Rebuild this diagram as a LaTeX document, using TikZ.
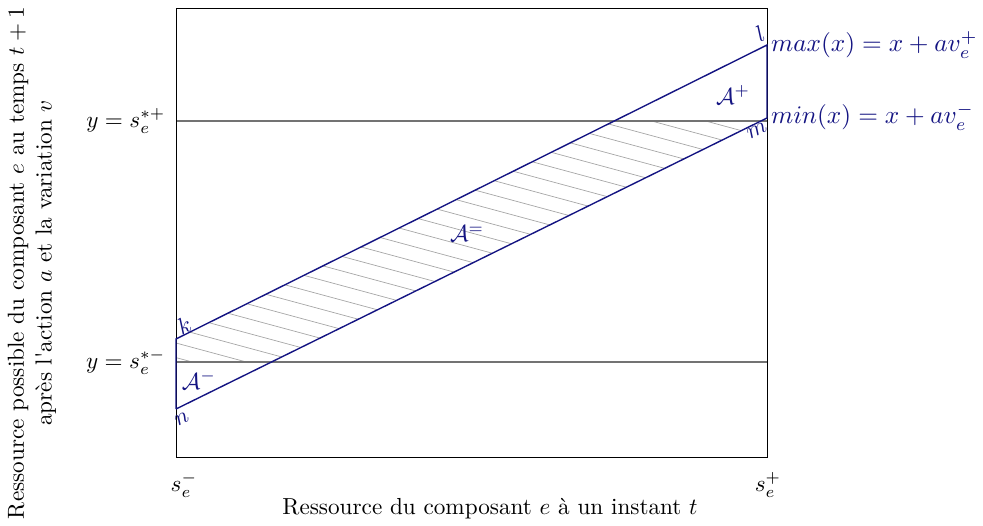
\documentclass[tikz,border=0pt]{standalone}
\usetikzlibrary{calc}
\definecolor{dblue}{RGB}{20,20,130}
\begin{document}
\begin{tikzpicture}[x=0.431pt,y=-0.431pt,
  frame/.style={draw=black,line width=0.4pt},
  level/.style={draw=black!55,line width=0.8pt},
  bline/.style={draw=dblue,line width=0.6pt},
  hatchline/.style={draw=gray!70,line width=0.3pt},
  blab/.style={text=dblue,inner sep=1pt},
  tlab/.style={text=black,inner sep=1pt}]
\useasboundingbox (0,0) rectangle (983,525);
% box corners
\coordinate (bl) at (176,457);
\coordinate (tr) at (767,8);
% horizontal levels
\coordinate (hpL) at (176,121); \coordinate (hpR) at (767,121);
\coordinate (hmL) at (176,362); \coordinate (hmR) at (767,362);
% parallelogram corners
\coordinate (k) at (176,339);
\coordinate (n) at (176,409);
\coordinate (l) at (767,45);
\coordinate (m) at (767,118);
% hatching
\begin{scope}
\clip (k) -- (176,362) -- (271.4,362) -- (760.9,121) -- (614,121) -- cycle;
\foreach \i in {-5,...,40}{
  \draw[hatchline] (150,{343-14.6*\i-0.27*26}) -- (800,{343-14.6*\i+0.27*624});
}
\end{scope}
\draw[level] (hpL) -- (hpR);
\draw[level] (hmL) -- (hmR);
\draw[frame] (bl) rectangle (tr);
\draw[bline] (n) -- (k) -- (l) -- (m) -- (n);
% corner letters
\node[blab,rotate=26.4] (lk) at (184,325) {$k$};
\node[blab,rotate=26.2] (ln) at (182,419) {$n$};
\node[blab,rotate=26.4] (ll) at (760,34) {$l$};
\node[blab,rotate=26.2] (lm) at (757,131) {$m$};
% areas
\node[blab] (Ap) at (733,95) {$\mathcal{A}^{+}$};
\node[blab] (Ae) at (467,234) {$\mathcal{A}^{=}$};
\node[blab] (Am) at (199,380) {$\mathcal{A}^{-}$};
% right labels
\node[blab,anchor=west,scale=1.09] (maxl) at (768,45) {$max(x) = x + av_e^{+}$};
\node[blab,anchor=west,scale=1.09] (minl) at (768,117) {$min(x) = x + av_e^{-}$};
% left labels
\node[tlab,anchor=east] (ysp) at (168,121) {$y = s_e^{*+}$};
\node[tlab,anchor=east] (ysm) at (168,362) {$y = s_e^{*-}$};
\node[tlab,rotate=90,align=center] (ylab) at (32,263) {Ressource possible du composant $e$ au temps $t+1$\\après l\textquotesingle action $a$ et la variation $v$};
% bottom labels
\node[tlab] (sm) at (184,485) {$s_e^{-}$};
\node[tlab] (spl) at (768,485) {$s_e^{+}$};
\node[tlab] (xlab) at (490,509) {Ressource du composant $e$ à un instant $t$};
\end{tikzpicture}
\end{document}
